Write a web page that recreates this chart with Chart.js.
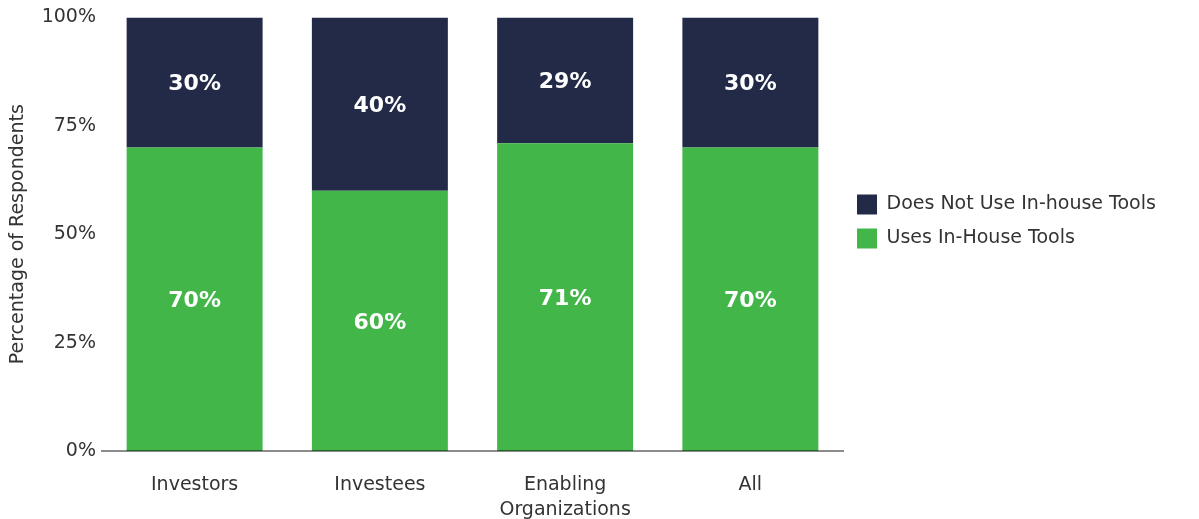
<!DOCTYPE html>
<html>
<head>
<meta charset="utf-8">
<script src="https://cdn.jsdelivr.net/npm/chart.js@4.4.1/dist/chart.umd.min.js"></script>
<style>
  html, body { margin: 0; padding: 0; background: #ffffff; }
  #wrap { width: 1199px; height: 519px; }
</style>
</head>
<body>
<div id="wrap"><canvas id="chart" width="1199" height="519"></canvas></div>
<script>
// Respondent groups along the x axis
const categories = ['Investors', 'Investees', ['Enabling', 'Organizations'], 'All'];

// Share of respondents (%) per group
const usesInHouse = [70, 60, 71, 70];
const doesNotUseInHouse = [30, 40, 29, 30];

const seriesNames = ['Uses In-House Tools', 'Does Not Use In-house Tools'];
const yTicks = [0, 25, 50, 75, 100];

const FONT = "'DejaVu Sans', sans-serif";
const TEXT = '#333333';

// Writes each segment's percentage in the middle of its bar piece
const segmentLabels = {
  id: 'segmentLabels',
  afterDatasetsDraw(chart) {
    const ctx = chart.ctx;
    ctx.save();
    ctx.fillStyle = '#ffffff';
    ctx.font = "bold 22px " + FONT;
    ctx.textAlign = 'center';
    ctx.textBaseline = 'middle';
    chart.data.datasets.forEach((ds, di) => {
      const meta = chart.getDatasetMeta(di);
      meta.data.forEach((bar, i) => {
        const mid = (bar.y + bar.base) / 2;
        ctx.fillText(ds.data[i] + '%', bar.x, mid + 2);
      });
    });
    ctx.restore();
  }
};

// Right-hand legend: fixed column width, and its items raised a little above centre
const legendPlacement = {
  id: 'legendPlacement',
  afterInit(chart) {
    const lg = chart.legend;
    if (!lg) return;
    const fit = lg.fit.bind(lg);
    lg.fit = function () {
      fit();
      this.width = 356;
    };
  },
  afterLayout(chart) {
    const lg = chart.legend;
    if (!lg) return;
    lg.top -= 40;
    lg.bottom -= 40;
  }
};

new Chart(document.getElementById('chart'), {
  type: 'bar',
  data: {
    labels: categories,
    datasets: [
      {
        label: seriesNames[0],
        data: usesInHouse,
        backgroundColor: '#43B649',
        borderWidth: 0,
        categoryPercentage: 1,
        barPercentage: 0.734
      },
      {
        label: seriesNames[1],
        data: doesNotUseInHouse,
        backgroundColor: '#222A48',
        borderWidth: 0,
        categoryPercentage: 1,
        barPercentage: 0.734
      }
    ]
  },
  options: {
    responsive: false,
    animation: false,
    layout: { padding: { top: 4, left: 0, right: 0, bottom: 0 } },
    plugins: {
      legend: {
        position: 'right',
        reverse: true,
        labels: {
          boxWidth: 20,
          boxHeight: 20,
          padding: 14,
          color: TEXT,
          font: { family: FONT, size: 19 }
        }
      },
      tooltip: { enabled: false }
    },
    scales: {
      x: {
        stacked: true,
        grid: { display: false, drawTicks: false },
        border: { display: true, color: 'rgba(0,0,0,0.45)', width: 2, z: 1 },
        ticks: {
          color: TEXT,
          padding: 22,
          font: { family: FONT, size: 19, lineHeight: 1.3 },
          maxRotation: 0
        },
        afterFit(scale) { scale.height = 68; }
      },
      y: {
        stacked: true,
        min: 0,
        max: 100,
        afterBuildTicks(scale) { scale.ticks = yTicks.map(v => ({ value: v })); },
        grid: { display: false, drawTicks: false },
        border: { display: false },
        ticks: {
          color: TEXT,
          padding: 6,
          font: { family: FONT, size: 19 },
          callback: v => v + '%'
        },
        title: {
          display: true,
          text: 'Percentage of Respondents',
          color: TEXT,
          padding: { top: 7, bottom: 0 },
          font: { family: FONT, size: 19 }
        },
        afterFit(scale) { scale.width = 102; }
      }
    }
  },
  plugins: [segmentLabels, legendPlacement]
});
</script>
</body>
</html>
